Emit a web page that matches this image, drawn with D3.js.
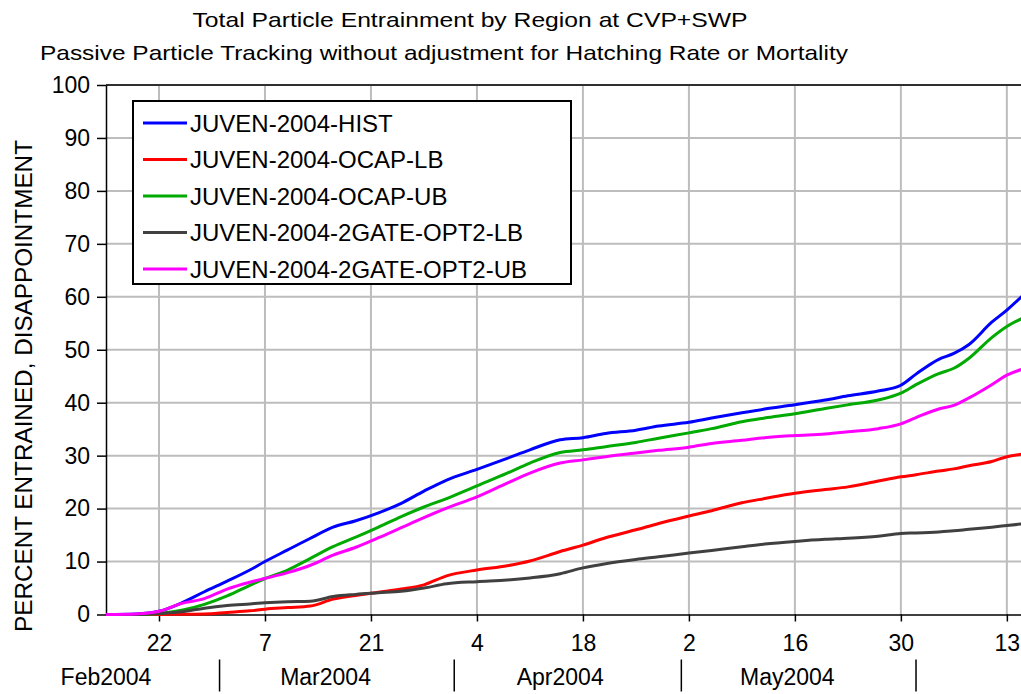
<!DOCTYPE html>
<html>
<head>
<meta charset="utf-8">
<script src="https://cdn.jsdelivr.net/npm/d3@7"></script>
<style>
  body { margin: 0; background: #fff; }
  text { font-family: "Liberation Sans", Arial, sans-serif; fill: #000; }
  .grid line { stroke: #bdbdbd; stroke-width: 2; }
  .axis path, .axis line { stroke: #000; stroke-width: 1.5; }
</style>
</head>
<body>
<div id="chart"></div>
<script>
// dates
var dates = ["2004-02-15","2004-02-19","2004-02-22","2004-02-25","2004-02-28","2004-03-02","2004-03-05","2004-03-07",
    "2004-03-10","2004-03-13","2004-03-16","2004-03-19","2004-03-22","2004-03-25","2004-03-28","2004-03-31",
    "2004-04-04","2004-04-08","2004-04-11","2004-04-15","2004-04-18","2004-04-21","2004-04-25","2004-04-28",
    "2004-05-02","2004-05-05","2004-05-09","2004-05-12","2004-05-16","2004-05-20","2004-05-23","2004-05-27",
    "2004-05-30","2004-06-01","2004-06-04","2004-06-06","2004-06-08","2004-06-11","2004-06-13","2004-06-15"];

var seriesNames = ["JUVEN-2004-HIST", "JUVEN-2004-OCAP-LB", "JUVEN-2004-OCAP-UB",
    "JUVEN-2004-2GATE-OPT2-LB", "JUVEN-2004-2GATE-OPT2-UB"];
var seriesColors = ["#0000ff", "#ff0000", "#00aa00", "#404040", "#ff00ff"];

var hist = [0, 0.1, 0.6, 2.2, 4.3, 6.3, 8.4, 10.0, 12.2, 14.4, 16.5, 17.7, 19.2, 21.0, 23.3, 25.4,
    27.4, 29.5, 31.1, 33.0, 33.4, 34.2, 34.8, 35.6, 36.3, 37.1, 38.1, 38.8, 39.6, 40.5, 41.3, 42.2,
    43.3, 45.4, 48.2, 49.3, 51.0, 55.2, 57.5, 60.1];
var ocapLB = [0, 0, 0, 0.05, 0.1, 0.4, 0.7, 1.0, 1.3, 1.6, 2.9, 3.6, 4.2, 4.8, 5.6, 7.3,
    8.4, 9.2, 10.1, 11.9, 13.1, 14.5, 16.0, 17.2, 18.6, 19.6, 21.1, 21.9, 22.9, 23.6, 24.1, 25.2,
    26.0, 26.4, 27.1, 27.5, 28.1, 28.9, 29.8, 30.3];
var ocapUB = [0, 0, 0.2, 0.8, 1.9, 3.5, 5.5, 6.8, 8.4, 10.6, 12.8, 14.6, 16.5, 18.5, 20.3, 21.9,
    24.3, 26.7, 28.6, 30.6, 31.1, 31.7, 32.5, 33.3, 34.3, 35.1, 36.4, 37.1, 37.9, 38.9, 39.6, 40.5,
    41.8, 43.4, 45.5, 46.5, 48.4, 52.3, 54.4, 55.9];
var gateLB = [0, 0, 0.2, 0.5, 1.2, 1.7, 2.0, 2.2, 2.4, 2.5, 3.4, 3.8, 4.1, 4.4, 5.0, 5.8,
    6.2, 6.5, 6.9, 7.7, 8.8, 9.6, 10.4, 10.9, 11.6, 12.1, 12.8, 13.3, 13.8, 14.2, 14.4, 14.8,
    15.3, 15.4, 15.6, 15.8, 16.1, 16.5, 16.8, 17.1];
var gateUB = [0, 0.1, 0.6, 2.1, 3.0, 4.8, 6.1, 6.8, 7.9, 9.3, 11.2, 12.7, 14.5, 16.4, 18.3, 20.1,
    22.2, 24.8, 26.7, 28.6, 29.2, 29.8, 30.5, 31.0, 31.6, 32.3, 32.9, 33.4, 33.8, 34.1, 34.5, 35.1,
    36.0, 37.2, 38.8, 39.5, 40.9, 43.4, 45.2, 46.3];

var dayTicks = ["2004-02-22","2004-03-07","2004-03-21","2004-04-04","2004-04-18","2004-05-02","2004-05-16","2004-05-30","2004-06-13"];
var monthStarts = ["2004-03-01","2004-04-01","2004-05-01","2004-06-01"];
var monthLabels = ["2004-02-15","2004-03-15","2004-04-15","2004-05-15"];
var yTicks = [0, 10, 20, 30, 40, 50, 60, 70, 80, 90, 100];

var titleLines = ["Total Particle Entrainment by Region at CVP+SWP",
    "Passive Particle Tracking without adjustment for Hatching Rate or Mortality"];
var yTitle = "PERCENT ENTRAINED, DISAPPOINTMENT";

var parse = d3.utcParse("%Y-%m-%d");
var allValues = [hist, ocapLB, ocapUB, gateLB, gateUB];

var margin = { top: 85, left: 106 };
var width = 916, height = 529.5;

var svg = d3.select("#chart").append("svg")
    .attr("width", 1021)
    .attr("height", 694);

var g = svg.append("g")
    .attr("transform", "translate(" + margin.left + "," + margin.top + ")");

var x = d3.scaleUtc()
    .domain([parse("2004-02-15"), parse("2004-06-15")])
    .range([0, width]);
var y = d3.scaleLinear()
    .domain([0, 100])
    .range([height, 0]);

// grid
g.append("g").attr("class", "grid")
    .selectAll("line").data(dayTicks.map(parse)).enter().append("line")
    .attr("x1", function(d) { return x(d); }).attr("x2", function(d) { return x(d); })
    .attr("y1", 0).attr("y2", height);
g.append("g").attr("class", "grid")
    .selectAll("line").data(yTicks.slice(1)).enter().append("line")
    .attr("x1", 0).attr("x2", width)
    .attr("y1", function(d) { return y(d); }).attr("y2", function(d) { return y(d); });

// top border
g.append("line")
    .attr("x1", 0).attr("x2", width).attr("y1", 0).attr("y2", 0)
    .attr("stroke", "#000").attr("stroke-width", 1.5);

// axes
var yAxis = d3.axisLeft(y).tickValues(yTicks).tickSize(9).tickSizeOuter(0).tickPadding(7);
g.append("g").attr("class", "axis")
    .call(yAxis)
    .selectAll("text").style("font-size", "23px");

var xAxis = d3.axisBottom(x).tickValues(dayTicks.map(parse)).tickFormat(d3.utcFormat("%-d"))
    .tickSize(7).tickSizeOuter(0).tickPadding(13);
g.append("g").attr("class", "axis")
    .attr("transform", "translate(0," + height + ")")
    .call(xAxis)
    .selectAll("text").style("font-size", "23px");

// month row
var monthRow = g.append("g").attr("transform", "translate(0," + (height + 45) + ")");
monthRow.selectAll("line").data(monthStarts.map(parse)).enter().append("line")
    .attr("x1", function(d) { return x(d); }).attr("x2", function(d) { return x(d); })
    .attr("y1", 0).attr("y2", 32)
    .attr("stroke", "#000").attr("stroke-width", 1.5);
monthRow.selectAll("text").data(monthLabels.map(parse)).enter().append("text")
    .attr("x", function(d) { return x(d); })
    .attr("y", 25)
    .attr("text-anchor", "middle")
    .style("font-size", "23px")
    .text(d3.utcFormat("%b%Y"));

// lines
var line = d3.line()
    .curve(d3.curveMonotoneX)
    .x(function(d, i) { return x(parse(dates[i])); })
    .y(function(d) { return y(d); });

allValues.forEach(function(vals, i) {
    g.append("path")
        .datum(vals)
        .attr("d", line)
        .attr("fill", "none")
        .attr("stroke", seriesColors[i])
        .attr("stroke-width", 3);
});

// legend
var legend = svg.append("g").attr("transform", "translate(133,101)");
legend.append("rect")
    .attr("width", 438).attr("height", 183)
    .attr("fill", "#fff").attr("stroke", "#000").attr("stroke-width", 2);
seriesNames.forEach(function(name, i) {
    var row = legend.append("g").attr("transform", "translate(0," + (22 + i * 36.5) + ")");
    row.append("line")
        .attr("x1", 10).attr("x2", 54)
        .attr("stroke", seriesColors[i]).attr("stroke-width", 3);
    row.append("text")
        .attr("x", 57).attr("dy", "0.36em")
        .style("font-size", "24px")
        .text(name);
});

// titles
svg.append("text")
    .attr("x", 470).attr("y", 27)
    .attr("text-anchor", "middle")
    .attr("textLength", 555).attr("lengthAdjust", "spacingAndGlyphs")
    .style("font-size", "21px")
    .text(titleLines[0]);
svg.append("text")
    .attr("x", 444).attr("y", 60)
    .attr("text-anchor", "middle")
    .attr("textLength", 808).attr("lengthAdjust", "spacingAndGlyphs")
    .style("font-size", "21px")
    .text(titleLines[1]);

svg.append("text")
    .attr("transform", "translate(32,386) rotate(-90)")
    .attr("text-anchor", "middle")
    .attr("textLength", 492).attr("lengthAdjust", "spacingAndGlyphs")
    .style("font-size", "23px")
    .text(yTitle);
</script>
</body>
</html>
